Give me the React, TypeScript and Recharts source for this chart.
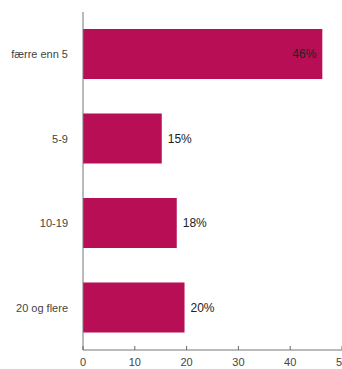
import React from "react";
import { BarChart, Bar, XAxis, YAxis, LabelList } from "recharts";

const categories = ["færre enn 5", "5-9", "10-19", "20 og flere"];
const values = [46.2, 15.2, 18.1, 19.6];
const valueLabels = ["46%", "15%", "18%", "20%"];
const xTicks = [0, 10, 20, 30, 40, 50];

const data = categories.map((c, i) => ({ name: c, value: values[i], label: valueLabels[i] }));

const FONT = "'Liberation Sans', Arial, sans-serif";

const XTick = (props: any) => {
  const { x, y, payload } = props;
  const axisY = y - 11;
  return (
    <g>
      <line x1={x} x2={x} y1={axisY} y2={axisY - 4} stroke="#666" strokeWidth={1} />
      <text x={x} y={y} dy={5} textAnchor="middle" fontSize={11} fill="#444" fontFamily={FONT}>
        {payload.value}
      </text>
    </g>
  );
};

const BarLabel = (props: any) => {
  const { x, y, width, height, index } = props;
  const inside = index === 0;
  const tx = inside ? x + width - 6 : x + width + 6;
  return (
    <text
      x={tx}
      y={y + height / 2}
      dy={4}
      textAnchor={inside ? "end" : "start"}
      fontSize={12}
      fill="#222"
      fontFamily={FONT}
    >
      {valueLabels[index]}
    </text>
  );
};

export default function App() {
  return (
    <div style={{ position: "absolute", left: 0, top: 0, width: 342, height: 369, background: "#fff" }}>
      <BarChart
        width={342}
        height={369}
        data={data}
        layout="vertical"
        margin={{ top: 12, right: 0, bottom: 0, left: 0 }}
        barSize={50}
      >
        <XAxis
          type="number"
          domain={[0, 50]}
          ticks={xTicks}
          height={19}
          tickLine={false}
          tickSize={0}
          tickMargin={11}
          axisLine={{ stroke: "#777" }}
          tick={<XTick />}
          interval={0}
        />
        <YAxis
          type="category"
          dataKey="name"
          width={83}
          tickLine={false}
          tickSize={0}
          tickMargin={15}
          axisLine={{ stroke: "#777" }}
          tick={{ fontSize: 11, fill: "#444", fontFamily: FONT }}
        />
        <Bar dataKey="value" fill="#B70E55" isAnimationActive={false}>
          <LabelList dataKey="label" content={<BarLabel />} />
        </Bar>
      </BarChart>
    </div>
  );
}
